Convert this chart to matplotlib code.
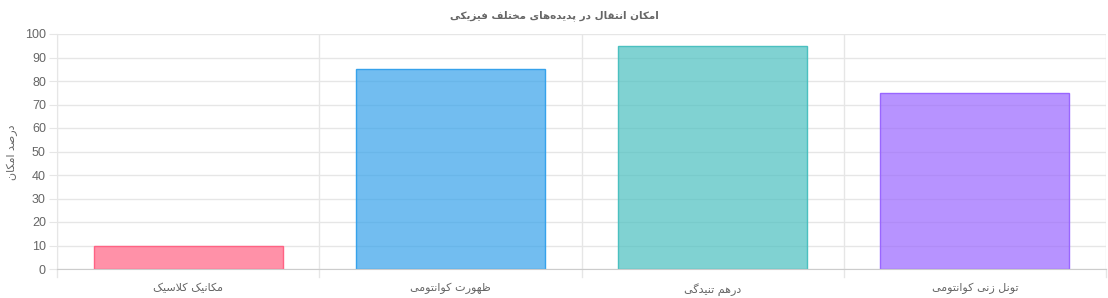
import matplotlib
matplotlib.use("Agg")
import matplotlib.pyplot as plt

# ---------------- data ----------------
categories = ["مکانیک کلاسیک", "ظهورت کوانتومی", "درهم تنیدگی", "تونل زنی کوانتومی"]
values = [10, 85, 95, 75]
title_text = "امکان انتقال در پدیده‌های مختلف فیزیکی"
ylabel_text = "درصد امکان"
yticks = list(range(0, 101, 10))

fill_colors = [(255/255, 99/255, 132/255, 0.7), (54/255, 162/255, 235/255, 0.7),
               (75/255, 192/255, 192/255, 0.7), (153/255, 102/255, 255/255, 0.7)]
edge_colors = [(255/255, 99/255, 132/255), (54/255, 162/255, 235/255),
               (75/255, 192/255, 192/255), (153/255, 102/255, 255/255)]

# ------------- minimal Arabic/Persian shaping -------------
FORMS = {
    '\u0627': (0xFE8D, 0xFE8E, None, None),
    '\u0628': (0xFE8F, 0xFE90, 0xFE91, 0xFE92),
    '\u067E': (0xFB56, 0xFB57, 0xFB58, 0xFB59),
    '\u062A': (0xFE95, 0xFE96, 0xFE97, 0xFE98),
    '\u062B': (0xFE99, 0xFE9A, 0xFE9B, 0xFE9C),
    '\u062C': (0xFE9D, 0xFE9E, 0xFE9F, 0xFEA0),
    '\u0686': (0xFB7A, 0xFB7B, 0xFB7C, 0xFB7D),
    '\u062D': (0xFEA1, 0xFEA2, 0xFEA3, 0xFEA4),
    '\u062E': (0xFEA5, 0xFEA6, 0xFEA7, 0xFEA8),
    '\u062F': (0xFEA9, 0xFEAA, None, None),
    '\u0630': (0xFEAB, 0xFEAC, None, None),
    '\u0631': (0xFEAD, 0xFEAE, None, None),
    '\u0632': (0xFEAF, 0xFEB0, None, None),
    '\u0698': (0xFB8A, 0xFB8B, None, None),
    '\u0633': (0xFEB1, 0xFEB2, 0xFEB3, 0xFEB4),
    '\u0634': (0xFEB5, 0xFEB6, 0xFEB7, 0xFEB8),
    '\u0635': (0xFEB9, 0xFEBA, 0xFEBB, 0xFEBC),
    '\u0636': (0xFEBD, 0xFEBE, 0xFEBF, 0xFEC0),
    '\u0637': (0xFEC1, 0xFEC2, 0xFEC3, 0xFEC4),
    '\u0638': (0xFEC5, 0xFEC6, 0xFEC7, 0xFEC8),
    '\u0639': (0xFEC9, 0xFECA, 0xFECB, 0xFECC),
    '\u063A': (0xFECD, 0xFECE, 0xFECF, 0xFED0),
    '\u0641': (0xFED1, 0xFED2, 0xFED3, 0xFED4),
    '\u0642': (0xFED5, 0xFED6, 0xFED7, 0xFED8),
    '\u06A9': (0xFB8E, 0xFB8F, 0xFB90, 0xFB91),
    '\u06AF': (0xFB92, 0xFB93, 0xFB94, 0xFB95),
    '\u0644': (0xFEDD, 0xFEDE, 0xFEDF, 0xFEE0),
    '\u0645': (0xFEE1, 0xFEE2, 0xFEE3, 0xFEE4),
    '\u0646': (0xFEE5, 0xFEE6, 0xFEE7, 0xFEE8),
    '\u0648': (0xFEED, 0xFEEE, None, None),
    '\u0647': (0xFEE9, 0xFEEA, 0xFEEB, 0xFEEC),
    '\u06CC': (0xFBFC, 0xFBFD, 0xFBFE, 0xFBFF),
}


def dual(c):
    return c in FORMS and FORMS[c][2] is not None


def shape(text):
    chars = []
    i = 0
    while i < len(text):
        if text[i] == '\u0644' and i + 1 < len(text) and text[i + 1] == '\u0627':
            chars.append('LA')
            i += 2
        else:
            chars.append(text[i])
            i += 1
    out = []
    for k, c in enumerate(chars):
        prev = chars[k - 1] if k > 0 else None
        nxt = chars[k + 1] if k + 1 < len(chars) else None
        join_prev = prev is not None and dual(prev)
        if c == 'LA':
            out.append(chr(0xFEFC) if join_prev else chr(0xFEFB))
            continue
        if c not in FORMS:
            if c != '\u200C':
                out.append(c)
            continue
        iso, fin, ini, med = FORMS[c]
        join_next = dual(c) and nxt is not None and (nxt in FORMS or nxt == 'LA')
        if join_prev and join_next:
            g = med
        elif join_prev:
            g = fin
        elif join_next:
            g = ini
        else:
            g = iso
        out.append(chr(g))
    return ''.join(reversed(out))


# ---------------- figure ----------------
plt.rcParams['font.family'] = ['Liberation Sans', 'DejaVu Sans']
fig = plt.figure(figsize=(11.08, 2.98), dpi=100)
ax = fig.add_axes([57 / 1108, 1 - 269 / 298, (1106 - 57) / 1108, (269 - 34) / 298])

x = list(range(len(categories)))
ax.bar(x, values, width=0.72, color=fill_colors, edgecolor=edge_colors, linewidth=1, zorder=3)

ax.set_xlim(-0.5, len(categories) - 0.5)
ax.set_ylim(0, 100)
ax.set_yticks(yticks)
ax.set_yticklabels([str(v) for v in yticks])
ax.set_xticks(x)
ax.set_xticklabels([shape(c) for c in categories], family=['DejaVu Sans'], fontsize=8, color='#666666')

grid_c = '#e6e6e6'
for v in yticks:
    ax.axhline(v, color=grid_c, linewidth=1, zorder=1)
for b in [i - 0.5 for i in range(len(categories) + 1)]:
    ax.axvline(b, color=grid_c, linewidth=1, zorder=1)
    ax.plot([b, b], [0, -0.034], transform=ax.get_xaxis_transform(), color=grid_c,
            linewidth=1, clip_on=False, zorder=1)

for s in ['top', 'right']:
    ax.spines[s].set_visible(False)
ax.spines['left'].set_color('#e6e6e6')
ax.spines['bottom'].set_color('#cccccc')
ax.spines['bottom'].set_zorder(4)

ax.tick_params(axis='y', length=6, color=grid_c, labelsize=9, labelcolor='#666666', pad=2)
ax.tick_params(axis='x', length=0, pad=10)

fig.text(12 / 1108, 1 - 152 / 298, shape(ylabel_text), rotation=90, ha='center', va='center',
         family=['DejaVu Sans'], fontsize=8, color='#666666')
fig.text(0.5, 1 - 16 / 298, shape(title_text), ha='center', va='center',
         family=['DejaVu Sans'], fontsize=7.5, fontweight='bold', color='#666666')

fig.savefig('out.png', dpi=100, facecolor='white')
